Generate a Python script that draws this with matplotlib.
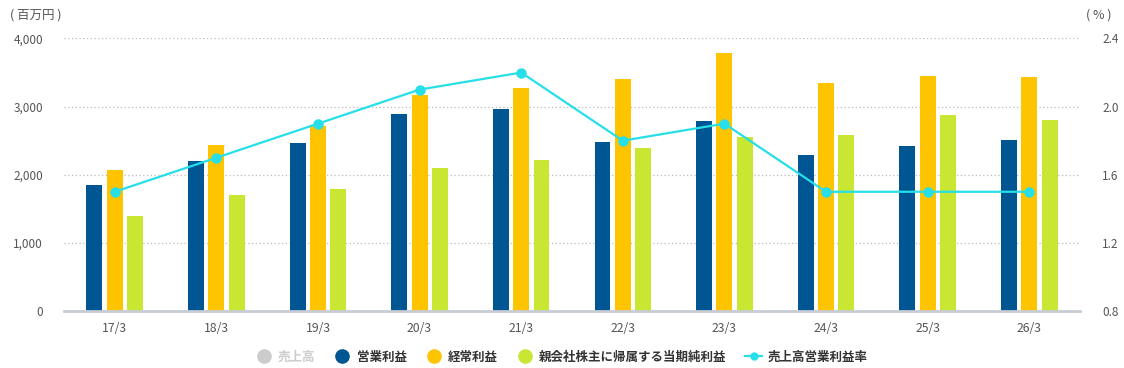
import matplotlib
matplotlib.use("Agg")
import matplotlib.pyplot as plt
from matplotlib.lines import Line2D
import numpy as np

plt.rcParams['font.family'] = ['Noto Sans CJK JP', 'DejaVu Sans']

categories = ["17/3", "18/3", "19/3", "20/3", "21/3", "22/3", "23/3", "24/3", "25/3", "26/3"]
operating_profit = [1850, 2200, 2470, 2890, 2970, 2480, 2790, 2290, 2420, 2510]
ordinary_profit = [2070, 2440, 2720, 3170, 3280, 3410, 3780, 3350, 3450, 3440]
net_profit = [1390, 1700, 1790, 2100, 2220, 2390, 2550, 2590, 2880, 2800]
op_margin = [1.5, 1.7, 1.9, 2.1, 2.2, 1.8, 1.9, 1.5, 1.5, 1.5]
left_ticks = [0, 1000, 2000, 3000, 4000]
right_ticks = [0.8, 1.2, 1.6, 2.0, 2.4]

c_blue = "#005693"
c_yellow = "#ffc400"
c_green = "#c8e632"
c_cyan = "#26dfe8"
c_gray = "#cccccc"
txt = "#555555"

fig = plt.figure(figsize=(11.24, 3.68), dpi=100)
ax = fig.add_axes([0.0569, 0.1549, 0.904, 0.7405])
x = np.arange(len(categories))
w = 0.157
off = 0.2
ax.bar(x - off, operating_profit, w, color=c_blue, zorder=2)
ax.bar(x, ordinary_profit, w, color=c_yellow, zorder=2)
ax.bar(x + off, net_profit, w, color=c_green, zorder=2)
ax.set_xlim(-0.5, len(categories) - 0.5)
ax.set_ylim(0, 4000)
ax.set_yticks(left_ticks)
ax.set_yticklabels([f"{v:,}" for v in left_ticks])
ax.set_xticks(x)
ax.set_xticklabels(categories)
ax.grid(axis='y', color='#bbbbbb', linestyle=(0, (1, 2)), linewidth=0.9, zorder=0)
for s in ['left', 'right', 'top']:
    ax.spines[s].set_visible(False)
ax.spines['bottom'].set_color('#c8ccd4')
ax.spines['bottom'].set_linewidth(2.0)
ax.spines['bottom'].set_zorder(3)
ax.tick_params(axis='y', length=0, pad=15, labelsize=8.5, labelcolor=txt)
ax.tick_params(axis='x', length=0, pad=8, labelsize=8.8, labelcolor=txt)

ax2 = ax.twinx()
ax2.plot(x, op_margin, color=c_cyan, linewidth=1.6, marker='o', markersize=6.5, zorder=4)
ax2.set_ylim(0.8, 2.4)
ax2.set_yticks(right_ticks)
ax2.set_yticklabels([f"{v:.1f}" for v in right_ticks])
for s in ['left', 'right', 'top', 'bottom']:
    ax2.spines[s].set_visible(False)
ax2.tick_params(axis='y', length=0, pad=16, labelsize=8.5, labelcolor=txt)

fig.text(10 / 1124, 1 - 15 / 368, "( 百万円 )", fontsize=9, color=txt, ha='left', va='center')
fig.text(1111 / 1124, 1 - 15 / 368, "( % )", fontsize=9, color=txt, ha='right', va='center')

handles = [
    Line2D([], [], linestyle='none', marker='o', markersize=9.5, color=c_gray),
    Line2D([], [], linestyle='none', marker='o', markersize=9.5, color=c_blue),
    Line2D([], [], linestyle='none', marker='o', markersize=9.5, color=c_yellow),
    Line2D([], [], linestyle='none', marker='o', markersize=9.5, color=c_green),
    Line2D([], [], color=c_cyan, linewidth=1.6, marker='o', markersize=5),
]
labels = ["売上高", "営業利益", "経常利益", "親会社株主に帰属する当期純利益", "売上高営業利益率"]
leg = fig.legend(handles, labels, loc='center', bbox_to_anchor=(0.4995, 1 - 357 / 368), ncol=5,
                 frameon=False, fontsize=9, handlelength=1.4, handletextpad=0.45, columnspacing=1.45)
for i, t in enumerate(leg.get_texts()):
    t.set_fontweight('bold')
    t.set_color(c_gray if i == 0 else '#333333')

fig.savefig("out.png", dpi=100)
